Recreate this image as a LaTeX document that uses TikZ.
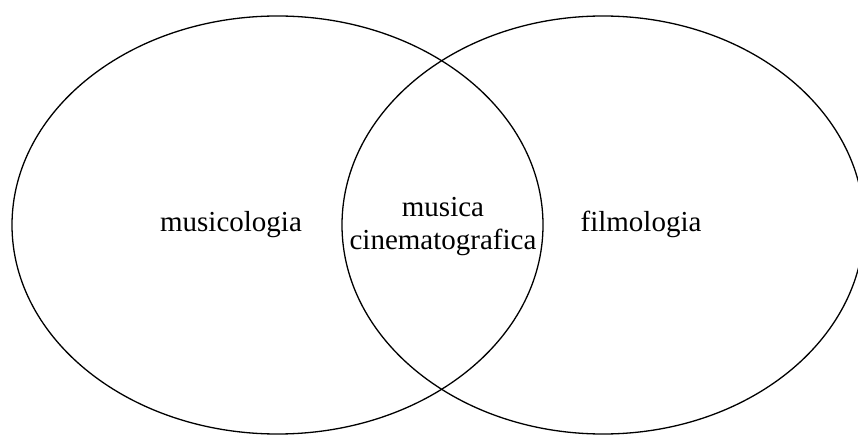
\documentclass[tikz,border=0pt]{standalone}
\usepackage{fontspec}
\setmainfont{Liberation Serif}
\usetikzlibrary{shapes.geometric}

\begin{document}
\begin{tikzpicture}[
    x=1pt, y=-1pt,         % one unit = one pixel of the original, y down
    field/.style={
        draw=black,
        ellipse,
        line width=1.3pt,
        inner sep=0pt,
        outer sep=0pt
    },
    fieldname/.style={
        font=\fontsize{29}{33}\selectfont,
        align=center,
        inner sep=0pt
    }
]
    \useasboundingbox (0,0) rectangle (858,435);
    \clip (0,0) rectangle (858,435);

        \node[field, minimum width=531pt, minimum height=418pt] (music) at (277.5,225) {};
        \node[field, minimum width=522pt, minimum height=418pt] (film) at (603,225) {};

        \node[fieldname, anchor=base] (musicologia) at (231,232) {musicologia};
        \node[fieldname, anchor=base] (filmologia) at (641,232) {filmologia};
        \node[fieldname] (overlap) at (443,226.5) {musica\\cinematografica};
\end{tikzpicture}
\end{document}
